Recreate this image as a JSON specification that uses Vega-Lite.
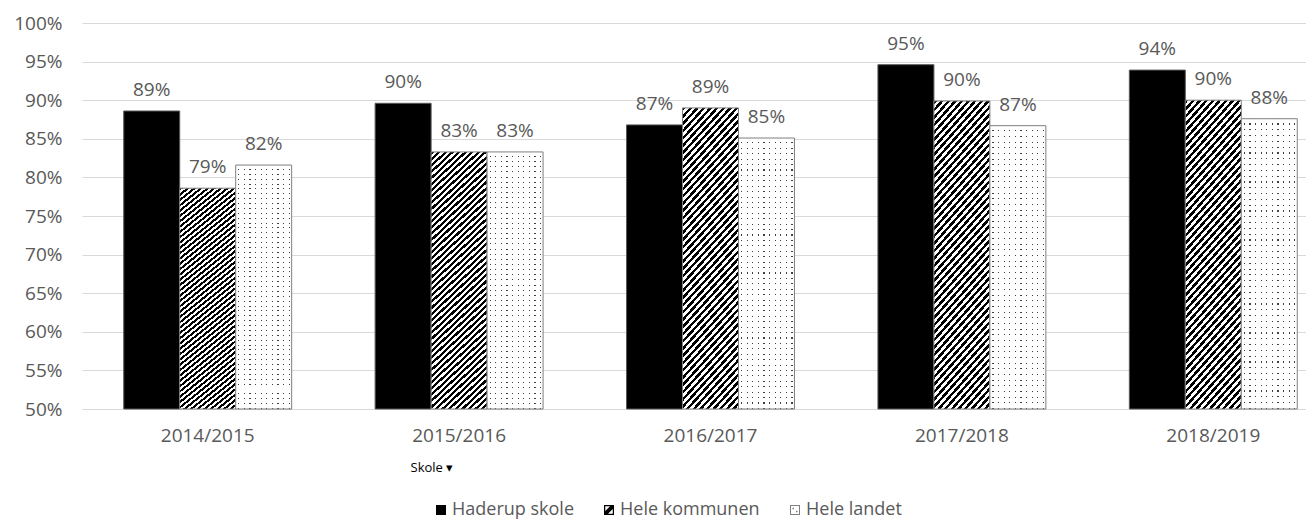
{
  "$schema": "https://vega.github.io/schema/vega-lite/v6.json",
  "width": 1224,
  "height": 386,
  "autosize": {"type": "none"},
  "padding": {"left": 82, "top": 23, "right": 0, "bottom": 114},
  "background": "#ffffff",
  "config": {"view": {"stroke": null}, "font": "Open Sans"},
  "data": {"values": [
    {"aar": "2014/2015", "serie": "Haderup skole", "v": 0.886},
    {"aar": "2014/2015", "serie": "Hele kommunen", "v": 0.786},
    {"aar": "2014/2015", "serie": "Hele landet", "v": 0.816},
    {"aar": "2015/2016", "serie": "Haderup skole", "v": 0.896},
    {"aar": "2015/2016", "serie": "Hele kommunen", "v": 0.833},
    {"aar": "2015/2016", "serie": "Hele landet", "v": 0.833},
    {"aar": "2016/2017", "serie": "Haderup skole", "v": 0.868},
    {"aar": "2016/2017", "serie": "Hele kommunen", "v": 0.890},
    {"aar": "2016/2017", "serie": "Hele landet", "v": 0.851},
    {"aar": "2017/2018", "serie": "Haderup skole", "v": 0.946},
    {"aar": "2017/2018", "serie": "Hele kommunen", "v": 0.899},
    {"aar": "2017/2018", "serie": "Hele landet", "v": 0.867},
    {"aar": "2018/2019", "serie": "Haderup skole", "v": 0.939},
    {"aar": "2018/2019", "serie": "Hele kommunen", "v": 0.900},
    {"aar": "2018/2019", "serie": "Hele landet", "v": 0.876}
  ]},
  "encoding": {
    "x": {"field": "aar", "type": "nominal", "sort": null,
      "scale": {"range": [0, 1257], "paddingInner": 0.332, "paddingOuter": 0.166},
      "axis": {"labelFontSize": 19, "labelColor": "#595959", "labelAngle": 0, "labelPadding": 17,
        "domainColor": "#d9d9d9", "ticks": false,
        "title": "Skole ▾", "titleX": 328, "titleY": 58, "titleAlign": "left", "titleAnchor": "start",
        "titleBaseline": "middle", "titleFontSize": 13, "titleFontWeight": "normal", "titleColor": "#000000"}},
    "xOffset": {"field": "serie", "type": "nominal",
      "scale": {"domain": ["Haderup skole", "Hele kommunen", "Hele landet"], "paddingInner": 0, "paddingOuter": 0}},
    "y": {"field": "v", "type": "quantitative",
      "scale": {"domain": [0.5, 1], "zero": false, "nice": false},
      "axis": {"values": [0.5, 0.55, 0.6, 0.65, 0.7, 0.75, 0.8, 0.85, 0.9, 0.95, 1], "format": ".0%",
        "labelFontSize": 19, "labelColor": "#595959", "labelPadding": 20, "domain": false, "ticks": false,
        "grid": true, "gridColor": "#d9d9d9", "title": null}}
  },
  "layer": [
    {
      "transform": [{"filter": "datum.serie === 'Haderup skole'"}],
      "mark": {"type": "bar", "fill": "#000000", "stroke": "#595959", "strokeWidth": 1},
      "encoding": {"y2": {"datum": 0.5}}
    },
    {
      "transform": [{"filter": "datum.serie === 'Hele kommunen'"}],
      "mark": {"type": "bar", "stroke": "#7f7f7f", "strokeWidth": 1,
        "fill": {"gradient": "linear", "x1": 0, "y1": 0, "x2": 0.236, "y2": 1.156, "stops": [
{"offset":0,"color":"#000"},
{"offset":0.01,"color":"#000"},{"offset":0.01,"color":"#fff"},{"offset":0.02,"color":"#fff"},{"offset":0.02,"color":"#000"},
{"offset":0.03,"color":"#000"},{"offset":0.03,"color":"#fff"},{"offset":0.04,"color":"#fff"},{"offset":0.04,"color":"#000"},
{"offset":0.05,"color":"#000"},{"offset":0.05,"color":"#fff"},{"offset":0.06,"color":"#fff"},{"offset":0.06,"color":"#000"},
{"offset":0.07,"color":"#000"},{"offset":0.07,"color":"#fff"},{"offset":0.08,"color":"#fff"},{"offset":0.08,"color":"#000"},
{"offset":0.09,"color":"#000"},{"offset":0.09,"color":"#fff"},{"offset":0.10,"color":"#fff"},{"offset":0.10,"color":"#000"},
{"offset":0.11,"color":"#000"},{"offset":0.11,"color":"#fff"},{"offset":0.12,"color":"#fff"},{"offset":0.12,"color":"#000"},
{"offset":0.13,"color":"#000"},{"offset":0.13,"color":"#fff"},{"offset":0.14,"color":"#fff"},{"offset":0.14,"color":"#000"},
{"offset":0.15,"color":"#000"},{"offset":0.15,"color":"#fff"},{"offset":0.16,"color":"#fff"},{"offset":0.16,"color":"#000"},
{"offset":0.17,"color":"#000"},{"offset":0.17,"color":"#fff"},{"offset":0.18,"color":"#fff"},{"offset":0.18,"color":"#000"},
{"offset":0.19,"color":"#000"},{"offset":0.19,"color":"#fff"},{"offset":0.20,"color":"#fff"},{"offset":0.20,"color":"#000"},
{"offset":0.21,"color":"#000"},{"offset":0.21,"color":"#fff"},{"offset":0.22,"color":"#fff"},{"offset":0.22,"color":"#000"},
{"offset":0.23,"color":"#000"},{"offset":0.23,"color":"#fff"},{"offset":0.24,"color":"#fff"},{"offset":0.24,"color":"#000"},
{"offset":0.25,"color":"#000"},{"offset":0.25,"color":"#fff"},{"offset":0.26,"color":"#fff"},{"offset":0.26,"color":"#000"},
{"offset":0.27,"color":"#000"},{"offset":0.27,"color":"#fff"},{"offset":0.28,"color":"#fff"},{"offset":0.28,"color":"#000"},
{"offset":0.29,"color":"#000"},{"offset":0.29,"color":"#fff"},{"offset":0.30,"color":"#fff"},{"offset":0.30,"color":"#000"},
{"offset":0.31,"color":"#000"},{"offset":0.31,"color":"#fff"},{"offset":0.32,"color":"#fff"},{"offset":0.32,"color":"#000"},
{"offset":0.33,"color":"#000"},{"offset":0.33,"color":"#fff"},{"offset":0.34,"color":"#fff"},{"offset":0.34,"color":"#000"},
{"offset":0.35,"color":"#000"},{"offset":0.35,"color":"#fff"},{"offset":0.36,"color":"#fff"},{"offset":0.36,"color":"#000"},
{"offset":0.37,"color":"#000"},{"offset":0.37,"color":"#fff"},{"offset":0.38,"color":"#fff"},{"offset":0.38,"color":"#000"},
{"offset":0.39,"color":"#000"},{"offset":0.39,"color":"#fff"},{"offset":0.40,"color":"#fff"},{"offset":0.40,"color":"#000"},
{"offset":0.41,"color":"#000"},{"offset":0.41,"color":"#fff"},{"offset":0.42,"color":"#fff"},{"offset":0.42,"color":"#000"},
{"offset":0.43,"color":"#000"},{"offset":0.43,"color":"#fff"},{"offset":0.44,"color":"#fff"},{"offset":0.44,"color":"#000"},
{"offset":0.45,"color":"#000"},{"offset":0.45,"color":"#fff"},{"offset":0.46,"color":"#fff"},{"offset":0.46,"color":"#000"},
{"offset":0.47,"color":"#000"},{"offset":0.47,"color":"#fff"},{"offset":0.48,"color":"#fff"},{"offset":0.48,"color":"#000"},
{"offset":0.49,"color":"#000"},{"offset":0.49,"color":"#fff"},{"offset":0.50,"color":"#fff"},{"offset":0.50,"color":"#000"},
{"offset":0.51,"color":"#000"},{"offset":0.51,"color":"#fff"},{"offset":0.52,"color":"#fff"},{"offset":0.52,"color":"#000"},
{"offset":0.53,"color":"#000"},{"offset":0.53,"color":"#fff"},{"offset":0.54,"color":"#fff"},{"offset":0.54,"color":"#000"},
{"offset":0.55,"color":"#000"},{"offset":0.55,"color":"#fff"},{"offset":0.56,"color":"#fff"},{"offset":0.56,"color":"#000"},
{"offset":0.57,"color":"#000"},{"offset":0.57,"color":"#fff"},{"offset":0.58,"color":"#fff"},{"offset":0.58,"color":"#000"},
{"offset":0.59,"color":"#000"},{"offset":0.59,"color":"#fff"},{"offset":0.60,"color":"#fff"},{"offset":0.60,"color":"#000"},
{"offset":0.61,"color":"#000"},{"offset":0.61,"color":"#fff"},{"offset":0.62,"color":"#fff"},{"offset":0.62,"color":"#000"},
{"offset":0.63,"color":"#000"},{"offset":0.63,"color":"#fff"},{"offset":0.64,"color":"#fff"},{"offset":0.64,"color":"#000"},
{"offset":0.65,"color":"#000"},{"offset":0.65,"color":"#fff"},{"offset":0.66,"color":"#fff"},{"offset":0.66,"color":"#000"},
{"offset":0.67,"color":"#000"},{"offset":0.67,"color":"#fff"},{"offset":0.68,"color":"#fff"},{"offset":0.68,"color":"#000"},
{"offset":0.69,"color":"#000"},{"offset":0.69,"color":"#fff"},{"offset":0.70,"color":"#fff"},{"offset":0.70,"color":"#000"},
{"offset":0.71,"color":"#000"},{"offset":0.71,"color":"#fff"},{"offset":0.72,"color":"#fff"},{"offset":0.72,"color":"#000"},
{"offset":0.73,"color":"#000"},{"offset":0.73,"color":"#fff"},{"offset":0.74,"color":"#fff"},{"offset":0.74,"color":"#000"},
{"offset":0.75,"color":"#000"},{"offset":0.75,"color":"#fff"},{"offset":0.76,"color":"#fff"},{"offset":0.76,"color":"#000"},
{"offset":0.77,"color":"#000"},{"offset":0.77,"color":"#fff"},{"offset":0.78,"color":"#fff"},{"offset":0.78,"color":"#000"},
{"offset":0.79,"color":"#000"},{"offset":0.79,"color":"#fff"},{"offset":0.80,"color":"#fff"},{"offset":0.80,"color":"#000"},
{"offset":0.81,"color":"#000"},{"offset":0.81,"color":"#fff"},{"offset":0.82,"color":"#fff"},{"offset":0.82,"color":"#000"},
{"offset":0.83,"color":"#000"},{"offset":0.83,"color":"#fff"},{"offset":0.84,"color":"#fff"},{"offset":0.84,"color":"#000"},
{"offset":0.85,"color":"#000"},{"offset":0.85,"color":"#fff"},{"offset":0.86,"color":"#fff"},{"offset":0.86,"color":"#000"},
{"offset":0.87,"color":"#000"},{"offset":0.87,"color":"#fff"},{"offset":0.88,"color":"#fff"},{"offset":0.88,"color":"#000"},
{"offset":0.89,"color":"#000"},{"offset":0.89,"color":"#fff"},{"offset":0.90,"color":"#fff"},{"offset":0.90,"color":"#000"},
{"offset":0.91,"color":"#000"},{"offset":0.91,"color":"#fff"},{"offset":0.92,"color":"#fff"},{"offset":0.92,"color":"#000"},
{"offset":0.93,"color":"#000"},{"offset":0.93,"color":"#fff"},{"offset":0.94,"color":"#fff"},{"offset":0.94,"color":"#000"},
{"offset":0.95,"color":"#000"},{"offset":0.95,"color":"#fff"},{"offset":0.96,"color":"#fff"},{"offset":0.96,"color":"#000"},
{"offset":0.97,"color":"#000"},{"offset":0.97,"color":"#fff"},{"offset":0.98,"color":"#fff"},{"offset":0.98,"color":"#000"},
{"offset":0.99,"color":"#000"},{"offset":0.99,"color":"#fff"},{"offset":1,"color":"#fff"}
        ]}},
      "encoding": {"y2": {"datum": 0.5}}
    },
    {
      "transform": [{"filter": "datum.serie === 'Hele landet'"}],
      "mark": {"type": "bar", "strokeWidth": 0,
        "fill": {"gradient": "linear", "x1": 0, "y1": 0, "x2": 1, "y2": 0, "stops": [
{"offset":0,"color":"#fff"},
{"offset":0.045,"color":"#fff"},{"offset":0.045,"color":"#404040"},{"offset":0.065,"color":"#404040"},{"offset":0.065,"color":"#fff"},
{"offset":0.145,"color":"#fff"},{"offset":0.145,"color":"#404040"},{"offset":0.165,"color":"#404040"},{"offset":0.165,"color":"#fff"},
{"offset":0.245,"color":"#fff"},{"offset":0.245,"color":"#404040"},{"offset":0.265,"color":"#404040"},{"offset":0.265,"color":"#fff"},
{"offset":0.345,"color":"#fff"},{"offset":0.345,"color":"#404040"},{"offset":0.365,"color":"#404040"},{"offset":0.365,"color":"#fff"},
{"offset":0.445,"color":"#fff"},{"offset":0.445,"color":"#404040"},{"offset":0.465,"color":"#404040"},{"offset":0.465,"color":"#fff"},
{"offset":0.545,"color":"#fff"},{"offset":0.545,"color":"#404040"},{"offset":0.565,"color":"#404040"},{"offset":0.565,"color":"#fff"},
{"offset":0.645,"color":"#fff"},{"offset":0.645,"color":"#404040"},{"offset":0.665,"color":"#404040"},{"offset":0.665,"color":"#fff"},
{"offset":0.745,"color":"#fff"},{"offset":0.745,"color":"#404040"},{"offset":0.765,"color":"#404040"},{"offset":0.765,"color":"#fff"},
{"offset":0.845,"color":"#fff"},{"offset":0.845,"color":"#404040"},{"offset":0.865,"color":"#404040"},{"offset":0.865,"color":"#fff"},
{"offset":0.945,"color":"#fff"},{"offset":0.945,"color":"#404040"},{"offset":0.965,"color":"#404040"},{"offset":0.965,"color":"#fff"},
{"offset":1,"color":"#fff"}
        ]}},
      "encoding": {"y2": {"datum": 0.5}}
    },
    {
      "transform": [{"filter": "datum.serie === 'Hele landet'"}],
      "mark": {"type": "bar", "stroke": "#7f7f7f", "strokeWidth": 1,
        "fill": {"gradient": "linear", "x1": 0, "y1": 0, "x2": 0, "y2": 1, "stops": [
{"offset":0,"color":"#fff"},{"offset":0.016,"color":"#fff"},{"offset":0.016,"color":"transparent"},{"offset":0.02,"color":"transparent"},
{"offset":0.02,"color":"#fff"},{"offset":0.036,"color":"#fff"},{"offset":0.036,"color":"transparent"},{"offset":0.04,"color":"transparent"},
{"offset":0.04,"color":"#fff"},{"offset":0.056,"color":"#fff"},{"offset":0.056,"color":"transparent"},{"offset":0.06,"color":"transparent"},
{"offset":0.06,"color":"#fff"},{"offset":0.076,"color":"#fff"},{"offset":0.076,"color":"transparent"},{"offset":0.08,"color":"transparent"},
{"offset":0.08,"color":"#fff"},{"offset":0.096,"color":"#fff"},{"offset":0.096,"color":"transparent"},{"offset":0.1,"color":"transparent"},
{"offset":0.1,"color":"#fff"},{"offset":0.116,"color":"#fff"},{"offset":0.116,"color":"transparent"},{"offset":0.12,"color":"transparent"},
{"offset":0.12,"color":"#fff"},{"offset":0.136,"color":"#fff"},{"offset":0.136,"color":"transparent"},{"offset":0.14,"color":"transparent"},
{"offset":0.14,"color":"#fff"},{"offset":0.156,"color":"#fff"},{"offset":0.156,"color":"transparent"},{"offset":0.16,"color":"transparent"},
{"offset":0.16,"color":"#fff"},{"offset":0.176,"color":"#fff"},{"offset":0.176,"color":"transparent"},{"offset":0.18,"color":"transparent"},
{"offset":0.18,"color":"#fff"},{"offset":0.196,"color":"#fff"},{"offset":0.196,"color":"transparent"},{"offset":0.2,"color":"transparent"},
{"offset":0.2,"color":"#fff"},{"offset":0.216,"color":"#fff"},{"offset":0.216,"color":"transparent"},{"offset":0.22,"color":"transparent"},
{"offset":0.22,"color":"#fff"},{"offset":0.236,"color":"#fff"},{"offset":0.236,"color":"transparent"},{"offset":0.24,"color":"transparent"},
{"offset":0.24,"color":"#fff"},{"offset":0.256,"color":"#fff"},{"offset":0.256,"color":"transparent"},{"offset":0.26,"color":"transparent"},
{"offset":0.26,"color":"#fff"},{"offset":0.276,"color":"#fff"},{"offset":0.276,"color":"transparent"},{"offset":0.28,"color":"transparent"},
{"offset":0.28,"color":"#fff"},{"offset":0.296,"color":"#fff"},{"offset":0.296,"color":"transparent"},{"offset":0.3,"color":"transparent"},
{"offset":0.3,"color":"#fff"},{"offset":0.316,"color":"#fff"},{"offset":0.316,"color":"transparent"},{"offset":0.32,"color":"transparent"},
{"offset":0.32,"color":"#fff"},{"offset":0.336,"color":"#fff"},{"offset":0.336,"color":"transparent"},{"offset":0.34,"color":"transparent"},
{"offset":0.34,"color":"#fff"},{"offset":0.356,"color":"#fff"},{"offset":0.356,"color":"transparent"},{"offset":0.36,"color":"transparent"},
{"offset":0.36,"color":"#fff"},{"offset":0.376,"color":"#fff"},{"offset":0.376,"color":"transparent"},{"offset":0.38,"color":"transparent"},
{"offset":0.38,"color":"#fff"},{"offset":0.396,"color":"#fff"},{"offset":0.396,"color":"transparent"},{"offset":0.4,"color":"transparent"},
{"offset":0.4,"color":"#fff"},{"offset":0.416,"color":"#fff"},{"offset":0.416,"color":"transparent"},{"offset":0.42,"color":"transparent"},
{"offset":0.42,"color":"#fff"},{"offset":0.436,"color":"#fff"},{"offset":0.436,"color":"transparent"},{"offset":0.44,"color":"transparent"},
{"offset":0.44,"color":"#fff"},{"offset":0.456,"color":"#fff"},{"offset":0.456,"color":"transparent"},{"offset":0.46,"color":"transparent"},
{"offset":0.46,"color":"#fff"},{"offset":0.476,"color":"#fff"},{"offset":0.476,"color":"transparent"},{"offset":0.48,"color":"transparent"},
{"offset":0.48,"color":"#fff"},{"offset":0.496,"color":"#fff"},{"offset":0.496,"color":"transparent"},{"offset":0.5,"color":"transparent"},
{"offset":0.5,"color":"#fff"},{"offset":0.516,"color":"#fff"},{"offset":0.516,"color":"transparent"},{"offset":0.52,"color":"transparent"},
{"offset":0.52,"color":"#fff"},{"offset":0.536,"color":"#fff"},{"offset":0.536,"color":"transparent"},{"offset":0.54,"color":"transparent"},
{"offset":0.54,"color":"#fff"},{"offset":0.556,"color":"#fff"},{"offset":0.556,"color":"transparent"},{"offset":0.56,"color":"transparent"},
{"offset":0.56,"color":"#fff"},{"offset":0.576,"color":"#fff"},{"offset":0.576,"color":"transparent"},{"offset":0.58,"color":"transparent"},
{"offset":0.58,"color":"#fff"},{"offset":0.596,"color":"#fff"},{"offset":0.596,"color":"transparent"},{"offset":0.6,"color":"transparent"},
{"offset":0.6,"color":"#fff"},{"offset":0.616,"color":"#fff"},{"offset":0.616,"color":"transparent"},{"offset":0.62,"color":"transparent"},
{"offset":0.62,"color":"#fff"},{"offset":0.636,"color":"#fff"},{"offset":0.636,"color":"transparent"},{"offset":0.64,"color":"transparent"},
{"offset":0.64,"color":"#fff"},{"offset":0.656,"color":"#fff"},{"offset":0.656,"color":"transparent"},{"offset":0.66,"color":"transparent"},
{"offset":0.66,"color":"#fff"},{"offset":0.676,"color":"#fff"},{"offset":0.676,"color":"transparent"},{"offset":0.68,"color":"transparent"},
{"offset":0.68,"color":"#fff"},{"offset":0.696,"color":"#fff"},{"offset":0.696,"color":"transparent"},{"offset":0.7,"color":"transparent"},
{"offset":0.7,"color":"#fff"},{"offset":0.716,"color":"#fff"},{"offset":0.716,"color":"transparent"},{"offset":0.72,"color":"transparent"},
{"offset":0.72,"color":"#fff"},{"offset":0.736,"color":"#fff"},{"offset":0.736,"color":"transparent"},{"offset":0.74,"color":"transparent"},
{"offset":0.74,"color":"#fff"},{"offset":0.756,"color":"#fff"},{"offset":0.756,"color":"transparent"},{"offset":0.76,"color":"transparent"},
{"offset":0.76,"color":"#fff"},{"offset":0.776,"color":"#fff"},{"offset":0.776,"color":"transparent"},{"offset":0.78,"color":"transparent"},
{"offset":0.78,"color":"#fff"},{"offset":0.796,"color":"#fff"},{"offset":0.796,"color":"transparent"},{"offset":0.8,"color":"transparent"},
{"offset":0.8,"color":"#fff"},{"offset":0.816,"color":"#fff"},{"offset":0.816,"color":"transparent"},{"offset":0.82,"color":"transparent"},
{"offset":0.82,"color":"#fff"},{"offset":0.836,"color":"#fff"},{"offset":0.836,"color":"transparent"},{"offset":0.84,"color":"transparent"},
{"offset":0.84,"color":"#fff"},{"offset":0.856,"color":"#fff"},{"offset":0.856,"color":"transparent"},{"offset":0.86,"color":"transparent"},
{"offset":0.86,"color":"#fff"},{"offset":0.876,"color":"#fff"},{"offset":0.876,"color":"transparent"},{"offset":0.88,"color":"transparent"},
{"offset":0.88,"color":"#fff"},{"offset":0.896,"color":"#fff"},{"offset":0.896,"color":"transparent"},{"offset":0.9,"color":"transparent"},
{"offset":0.9,"color":"#fff"},{"offset":0.916,"color":"#fff"},{"offset":0.916,"color":"transparent"},{"offset":0.92,"color":"transparent"},
{"offset":0.92,"color":"#fff"},{"offset":0.936,"color":"#fff"},{"offset":0.936,"color":"transparent"},{"offset":0.94,"color":"transparent"},
{"offset":0.94,"color":"#fff"},{"offset":0.956,"color":"#fff"},{"offset":0.956,"color":"transparent"},{"offset":0.96,"color":"transparent"},
{"offset":0.96,"color":"#fff"},{"offset":0.976,"color":"#fff"},{"offset":0.976,"color":"transparent"},{"offset":0.98,"color":"transparent"},
{"offset":0.98,"color":"#fff"},{"offset":0.996,"color":"#fff"},{"offset":0.996,"color":"transparent"},{"offset":1,"color":"transparent"}
        ]}},
      "encoding": {"y2": {"datum": 0.5}}
    },
    {
      "mark": {"type": "text", "baseline": "alphabetic", "dy": -15, "fontSize": 19, "color": "#595959"},
      "encoding": {"text": {"field": "v", "type": "quantitative", "format": ".0%"}}
    },
    {
      "mark": {"type": "point", "filled": true, "opacity": 0},
      "encoding": {
        "color": {"field": "serie", "type": "nominal",
          "scale": {"domain": ["Haderup skole", "Hele kommunen", "Hele landet"], "range": ["#000000", "#000000", "#7f7f7f"]},
          "legend": {"title": null, "orient": "none", "direction": "horizontal", "legendX": 350, "legendY": 478,
            "symbolSize": 100, "symbolOpacity": 1, "symbolStrokeWidth": 0, "labelFontSize": 18, "labelColor": "#595959",
            "labelOffset": 2, "columnPadding": 26}},
        "shape": {"field": "serie", "type": "nominal",
          "scale": {"domain": ["Haderup skole", "Hele kommunen", "Hele landet"],
            "range": ["square",
              "M-1,-1H1V1H-1Z M-0.75,-0.75V0.75H0.75V-0.75Z M-1,0.45L0.45,-1H1V-0.45L-0.45,1H-1Z",
              "M-1,-1H1V1H-1Z M-0.8,-0.8V0.8H0.8V-0.8Z M-0.5,-0.45h0.3v0.3h-0.3Z M0.2,0.15h0.3v0.3h-0.3Z"]},
          "legend": {"title": null, "orient": "none", "direction": "horizontal", "legendX": 350, "legendY": 478,
            "symbolSize": 100, "symbolOpacity": 1, "symbolStrokeWidth": 0, "labelFontSize": 18, "labelColor": "#595959",
            "labelOffset": 2, "columnPadding": 26}}
      }
    }
  ]
}
